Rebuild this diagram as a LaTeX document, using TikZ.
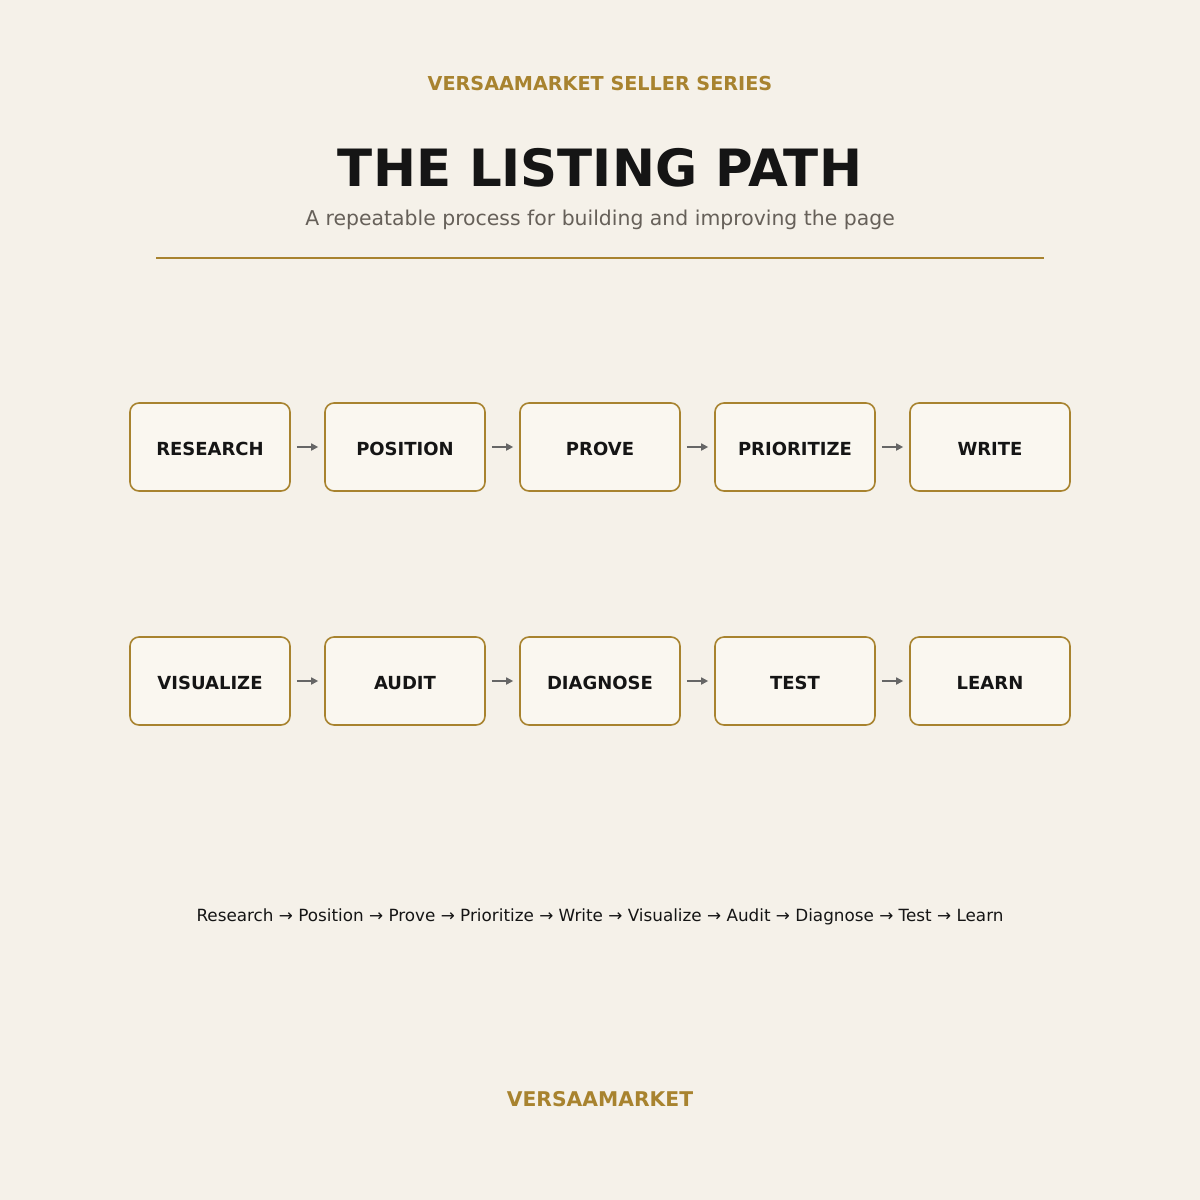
\documentclass[tikz,border=0pt]{standalone}
\usepackage{fontspec}
\setmainfont{DejaVu Sans}
\usetikzlibrary{arrows.meta}
\definecolor{bg}{HTML}{F5F1E9}
\definecolor{gold}{HTML}{A8832F}
\definecolor{boxfill}{HTML}{FAF7F0}
\definecolor{ink}{HTML}{151515}
\definecolor{sub}{HTML}{666059}
\definecolor{arr}{HTML}{666666}
\begin{document}
\begin{tikzpicture}[x=1pt,y=-1pt,
  stepbox/.style={draw=gold,line width=1.6pt,fill=boxfill,rounded corners=9pt,
    minimum width=160pt,minimum height=88pt,inner sep=0pt,text height=16.5pt,text depth=0pt,
    font=\fontsize{18}{21}\selectfont\bfseries,text=ink},
  flow/.style={draw=arr,line width=1.6pt,-{Triangle[length=7pt,width=7pt]}}]
\useasboundingbox[fill=bg] (0,0) rectangle (1200,1200);
\node[text=gold,font=\fontsize{19.2}{23}\selectfont\bfseries] (hdr) at (600,84) {VERSAAMARKET SELLER SERIES};
\node[text=ink,font=\fontsize{51.4}{60}\selectfont\bfseries] (title) at (600,168) {THE LISTING PATH};
\node[text=sub,font=\fontsize{20.4}{24}\selectfont] (subt) at (600,220) {A repeatable process for building and improving the page};
\coordinate (la) at (156,258); \coordinate (lb) at (1044,258);
\draw[gold,line width=1.6pt] (la) -- (lb);
\foreach \n/\t [count=\i from 0] in {a/RESEARCH,b/POSITION,c/PROVE,d/PRIORITIZE,e/WRITE}
  \node[stepbox] (r1\n) at (210+195*\i,447) {\t};
\foreach \n/\t [count=\i from 0] in {a/VISUALIZE,b/AUDIT,c/DIAGNOSE,d/TEST,e/LEARN}
  \node[stepbox] (r2\n) at (210+195*\i,681) {\t};
\foreach \p/\q in {a/b,b/c,c/d,d/e}{
  \draw[flow] ([xshift=6pt]r1\p.east) -- ([xshift=-6pt]r1\q.west);
  \draw[flow] ([xshift=6pt]r2\p.east) -- ([xshift=-6pt]r2\q.west);
}
\node[text=ink,font=\fontsize{16.8}{20}\selectfont] (seq) at (600,917) {Research → Position → Prove → Prioritize → Write → Visualize → Audit → Diagnose → Test → Learn};
\node[text=gold,font=\fontsize{20.3}{24}\selectfont\bfseries] (foot) at (600,1099) {VERSAAMARKET};
\end{tikzpicture}
\end{document}
